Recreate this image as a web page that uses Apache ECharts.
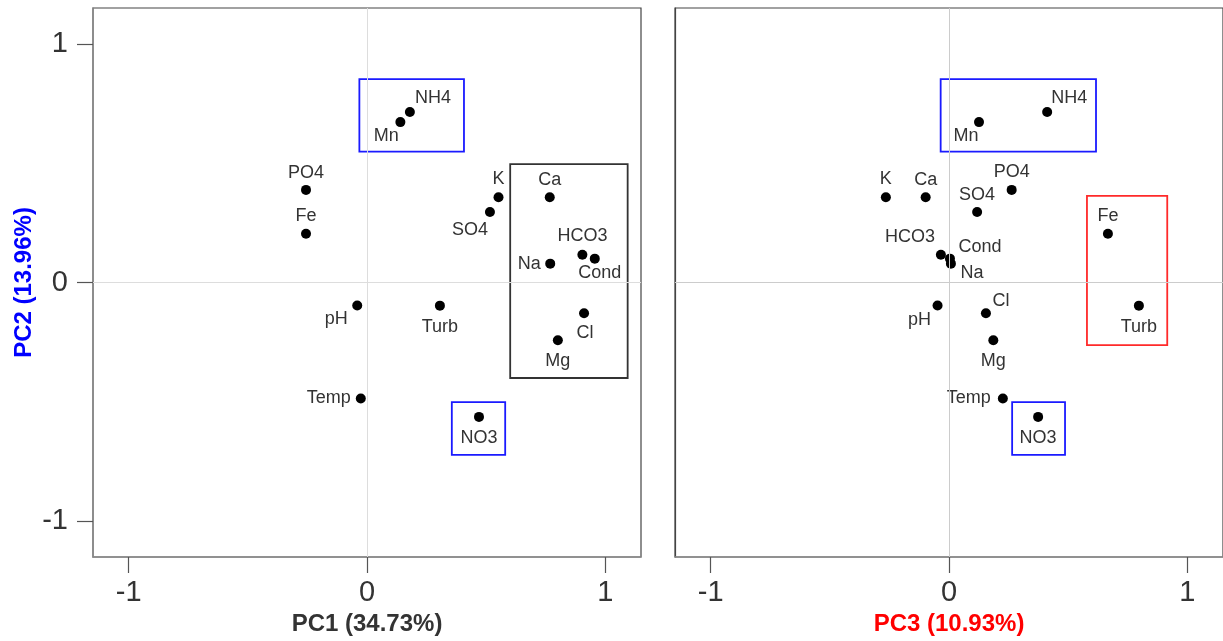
<!DOCTYPE html>
<html>
<head>
<meta charset="utf-8">
<script src="https://cdn.jsdelivr.net/npm/echarts@6/dist/echarts.min.js"></script>
<style>html,body{margin:0;padding:0;background:#fff}#c{width:1223px;height:641px}</style>
</head>
<body>
<div id="c"></div>
<script>
// ---- data ----
const variables = ['Temp','pH','Turb','Cond','Na','K','Ca','Mg','Cl','HCO3','SO4','NO3','NH4','PO4','Fe','Mn'];
const pc1 = [-0.026,-0.041,0.306,0.956,0.769,0.552,0.767,0.801,0.911,0.904,0.516,0.470,0.180,-0.256,-0.256,0.140];
const pc2 = [-0.486,-0.096,-0.097,0.100,0.079,0.357,0.357,-0.242,-0.129,0.116,0.295,-0.563,0.714,0.388,0.204,0.672];
const pc3 = [0.226,-0.048,0.797,0.004,0.008,-0.265,-0.098,0.186,0.155,-0.034,0.118,0.374,0.412,0.263,0.667,0.126];
const tickValues = [-1, 0, 1];
const axisTitles = ['PC1 (34.73%)', 'PC2 (13.96%)', 'PC3 (10.93%)'];
// highlight boxes in data space: [xmin, xmax, ymin, ymax]
const boxesLeft = [[-0.032,0.407,0.548,0.852],[0.601,1.094,-0.400,0.496],[0.356,0.580,-0.722,-0.501]];
const boxesRight = [[-0.035,0.617,0.548,0.852],[0.579,0.916,-0.262,0.363],[0.265,0.487,-0.722,-0.501]];

// ---- styling ----
const boxColorsLeft = ['#1a1aff','#333333','#1a1aff'];
const boxColorsRight = ['#1a1aff','#ff2a2a','#1a1aff'];
const offLeft = {Temp:[-32,0],pH:[-21,14],Turb:[0,21],Cond:[5,14],Na:[-21,0],K:[0,-18],Ca:[0,-17],Mg:[0,21],Cl:[1,20],HCO3:[0,-19],SO4:[-20,18],NO3:[0,21],NH4:[23,-14],PO4:[0,-17],Fe:[0,-18],Mn:[-14,14]};
const offRight = {Temp:[-34,0],pH:[-18,15],Turb:[0,21],Cond:[30,-12],Na:[21,9],K:[0,-18],Ca:[0,-17],Mg:[0,21],Cl:[15,-12],HCO3:[-31,-18],SO4:[0,-17],NO3:[0,21],NH4:[22,-14],PO4:[0,-18],Fe:[0,-18],Mn:[-13,14]};
const FONT = '"Liberation Sans", Arial, sans-serif';
const MIN = -1.15, MAX = 1.15;
const SYM = 10;

function pts(xs, ys, offs) {
  return variables.map((n, i) => ({
    name: n, value: [xs[i], ys[i]],
    label: { show: true, position: [SYM / 2 + offs[n][0], SYM / 2 + offs[n][1]], align: 'center', verticalAlign: 'middle' }
  }));
}
function areas(boxes, colors) {
  return boxes.map((b, i) => [
    { coord: [b[0], b[3]], itemStyle: { color: 'rgba(0,0,0,0)', borderColor: colors[i], borderWidth: 1.8 } },
    { coord: [b[1], b[2]] }
  ]);
}
function xAxisCfg(idx, title, color) {
  return {
    type: 'value', gridIndex: idx, min: MIN, max: MAX,
    name: title, nameLocation: 'middle', nameGap: 54,
    nameTextStyle: { fontFamily: FONT, fontSize: 24, fontWeight: 'bold', color: color },
    axisLine: { show: true, onZero: false, lineStyle: { color: '#8c8c8c', width: 1.5 } },
    axisTick: { show: true, length: 16, customValues: tickValues, lineStyle: { color: '#555', width: 1.2 } },
    axisLabel: { customValues: tickValues, margin: 21, fontFamily: FONT, fontSize: 29, color: '#333' },
    splitLine: { show: false }
  };
}
function zeroLines(color) {
  return {
    silent: true, symbol: 'none', animation: false,
    label: { show: false },
    lineStyle: { color: color, type: 'solid', width: 1 },
    data: [{ xAxis: 0 }, { yAxis: 0 }]
  };
}
function series(idx, xs, ys, offs, boxes, colors, zc) {
  return {
    type: 'scatter', xAxisIndex: idx, yAxisIndex: idx,
    data: pts(xs, ys, offs),
    symbolSize: SYM,
    itemStyle: { color: '#000', opacity: 1 },
    label: { show: true, formatter: '{b}', fontFamily: FONT, fontSize: 18, color: '#333' },
    labelLayout: { hideOverlap: false },
    markLine: zeroLines(zc),
    markArea: { silent: true, label: { show: false }, data: areas(boxes, colors) },
    animation: false
  };
}

const chart = echarts.init(document.getElementById('c'), null, { renderer: 'canvas' });
chart.setOption({
  backgroundColor: '#fff',
  animation: false,
  grid: [
    { left: 93, top: 8, width: 548, height: 549, show: true, borderColor: '#444', borderWidth: 1.2, backgroundColor: 'transparent' },
    { left: 675, top: 8, width: 548, height: 549, show: true, borderColor: '#444', borderWidth: 1.2, backgroundColor: 'transparent' }
  ],
  xAxis: [ xAxisCfg(0, axisTitles[0], '#333'), xAxisCfg(1, axisTitles[2], '#ff0000') ],
  yAxis: [
    {
      type: 'value', gridIndex: 0, min: MIN, max: MAX,
      name: axisTitles[1], nameLocation: 'middle', nameGap: 57,
      nameTextStyle: { fontFamily: FONT, fontSize: 24, fontWeight: 'bold', color: '#0000ff' },
      axisLine: { show: true, onZero: false, lineStyle: { color: '#8c8c8c', width: 1.5 } },
      axisTick: { show: true, length: 16, customValues: tickValues, lineStyle: { color: '#555', width: 1.2 } },
      axisLabel: { customValues: tickValues, margin: 25, fontFamily: FONT, fontSize: 29, color: '#333' },
      splitLine: { show: false }
    },
    {
      type: 'value', gridIndex: 1, min: MIN, max: MAX,
      axisLine: { show: true, onZero: false, lineStyle: { color: '#444', width: 1.2 } },
      axisTick: { show: false }, axisLabel: { show: false }, splitLine: { show: false }
    }
  ],
  series: [
    series(0, pc1, pc2, offLeft, boxesLeft, boxColorsLeft, '#dddddd'),
    series(1, pc3, pc2, offRight, boxesRight, boxColorsRight, '#cccccc')
  ]
});
</script>
</body>
</html>
